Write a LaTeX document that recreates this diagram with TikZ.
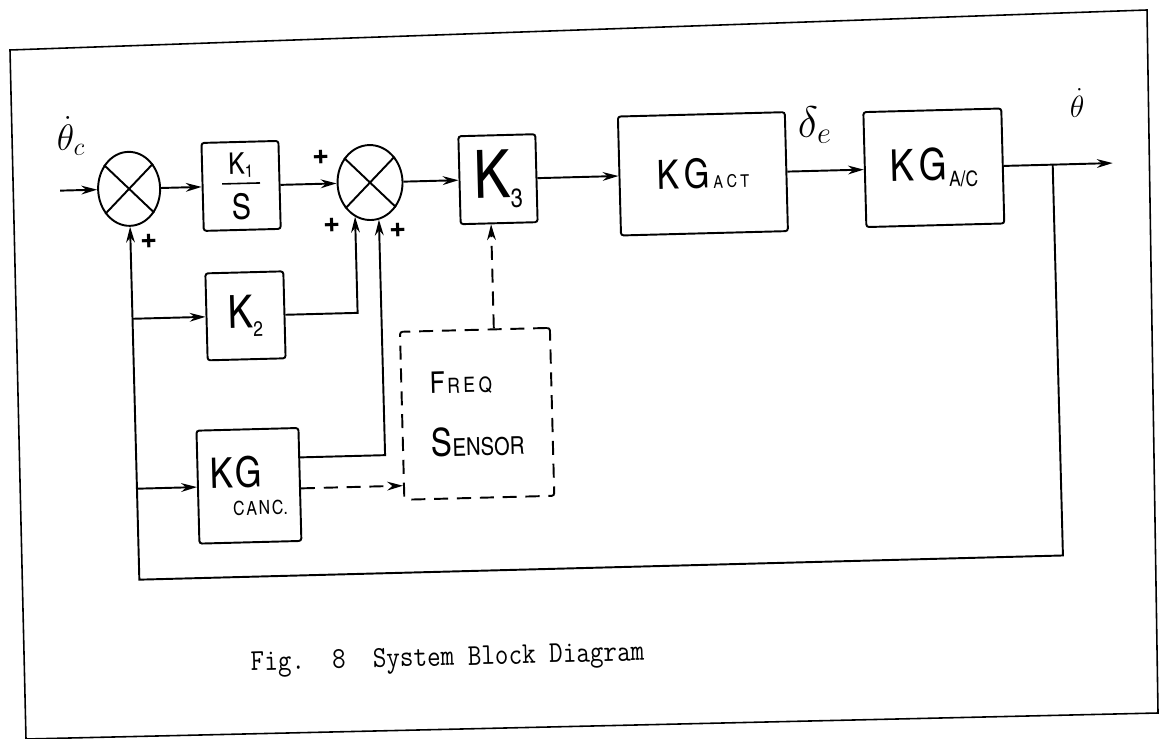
\documentclass[tikz,border=0pt]{standalone}
\usepackage{fontspec}
\usepackage{graphicx}
\usetikzlibrary{arrows.meta,shapes.geometric,calc}
\newfontfamily\hand{texgyreheroscn}[Extension=.otf,UprightFont=*-regular,BoldFont=*-bold]

\begin{document}
\begin{tikzpicture}[x=0.02cm,y=-0.02cm,line width=1.1pt,
    >={Stealth[length=9pt,width=5pt]},
    blockbox/.style={draw,rounded corners=1.5pt,inner sep=0pt,align=center,font=\hand},
    sumnode/.style={draw,ellipse,inner sep=0pt},
    dashlink/.style={dash pattern=on 8pt off 5pt},
    plusmark/.style={font=\hand\bfseries\fontsize{21}{21}\selectfont}]
    \useasboundingbox (0,0) rectangle (1168,739);

    % Marco de la hoja
    \draw[line width=0.9pt] (10,50) -- (1147,10) -- (1158,713) -- (26,739) -- cycle;

    \begin{scope}[rotate around={1.5:(584,370)},transform shape]
    % Sumadores
    \node[sumnode,minimum width=12.4mm,minimum height=14.8mm] (sumA) at (134,177) {};
    \node[sumnode,minimum width=13mm,minimum height=15mm] (sumB) at (375,177) {};
    \foreach \s in {sumA,sumB}{
        \draw (\s.45) -- (\s.225) (\s.135) -- (\s.315);
    }

    % Bloques de la cadena directa
    \node[blockbox,minimum width=15.4mm,minimum height=17.6mm] (K1S) at (246,177)
        {\fontsize{17}{17}\selectfont K\raisebox{-2pt}{\fontsize{10}{10}\selectfont 1}\\[-6pt]\rule{7.6mm}{0.9pt}\\[4pt]\fontsize{20}{20}\selectfont S};
    \node[blockbox,minimum width=15.4mm,minimum height=17.6mm] (K3) at (503,177)
        {\fontsize{38}{38}\selectfont K\raisebox{-6pt}{\fontsize{15}{15}\selectfont 3}};
    \node[blockbox,minimum width=33.4mm,minimum height=23.8mm] (KGact) at (708,177)
        {\fontsize{23}{23}\selectfont K\kern3pt G\kern2pt\fontsize{10}{10}\selectfont A\kern2pt C\kern2pt T};
    \node[blockbox,minimum width=27.6mm,minimum height=23mm] (KGac) at (939,177)
        {\fontsize{25}{25}\selectfont K\kern3pt G\kern1pt\raisebox{-4pt}{\fontsize{12}{12}\selectfont A/C}};

    % Bloques de la realimentacion
    \node[blockbox,minimum width=15.6mm,minimum height=17.4mm] (K2) at (247,307)
        {\fontsize{26}{26}\selectfont K\raisebox{-5pt}{\fontsize{12}{12}\selectfont 2}};
    \node[blockbox,minimum width=20.4mm,minimum height=22.6mm,align=left] (KGc) at (246,477)
        {\fontsize{24}{24}\selectfont K\kern1pt G\\[4pt]\hspace*{4.4mm}\fontsize{11}{11}\selectfont C\kern1pt A\kern1pt N\kern1pt C.};
    \node[blockbox,dashlink,minimum width=30mm,minimum height=33.6mm,align=left] (FS) at (476,411)
        {\fontsize{17}{17}\selectfont F\kern1.5pt\fontsize{12}{12}\selectfont R\kern2pt E\kern2pt Q\\[18pt]\fontsize{22}{22}\selectfont S\fontsize{14}{14}\selectfont ENSOR};

    % Etiquetas de las senales
    \node (thetaIn) at (77,123) {\fontsize{21}{21}\selectfont$\dot{\theta}_c$};
    \node (deltaE) at (821,131) {\fontsize{24}{24}\selectfont$\delta_e$};
    \node (thetaOut) at (1084,116) {\fontsize{18}{18}\selectfont$\dot{\theta}$};

    % Signos de los sumadores
    \node[plusmark] (plusA) at (153,231) {+};
    \node[plusmark] (plusB1) at (327,151) {+};
    \node[plusmark] (plusB2) at (336,220) {+};
    \node[plusmark] (plusB3) at (402,226) {+};

    % Puntos auxiliares
    \coordinate (inC) at (65,177);
    \coordinate (outC) at (1118,177);
    \coordinate (brC) at (1058,177);
    \coordinate (fbR) at (1058,568);
    \coordinate (fbL) at (134,568);
    \coordinate (cancTop) at ($(KGc.east)+(0,-27)$);
    \coordinate (cancDash) at ($(KGc.east)+(0,4)$);
    \coordinate (fsIn) at ($(K3.south)+(-8,0)$);

    % Cadena directa
    \draw[->] (inC) -- (sumA);
    \draw[->] (sumA) -- (K1S);
    \draw[->] (K1S) -- (sumB);
    \draw[->] (sumB) -- (K3);
    \draw[->] (K3) -- (KGact);
    \draw[->] (KGact) -- (KGac);
    \draw[->] (KGac) -- (outC);

    % Lazo de realimentacion
    \draw[->] (brC) -- (fbR) -- (fbL) -- (sumA);
    \draw[->] (fbL |- K2) -- (K2);
    \draw[->] (fbL |- KGc) -- (KGc);
    \draw[->] (K2) -| (sumB.245);
    \draw[->] (cancTop) -| (sumB.282);

    % Sensor de frecuencia
    \draw[dashlink,->] (cancDash) -- (cancDash -| FS.west);
    \draw[dashlink,->] (fsIn |- FS.north) -- (fsIn);

    % Pie de figura
    \node (caption) at (440,656) {\fontsize{15}{15}\selectfont\ttfamily\scalebox{1}[1.15]{Fig.~~8~~System Block Diagram}};
    \end{scope}
\end{tikzpicture}
\end{document}
